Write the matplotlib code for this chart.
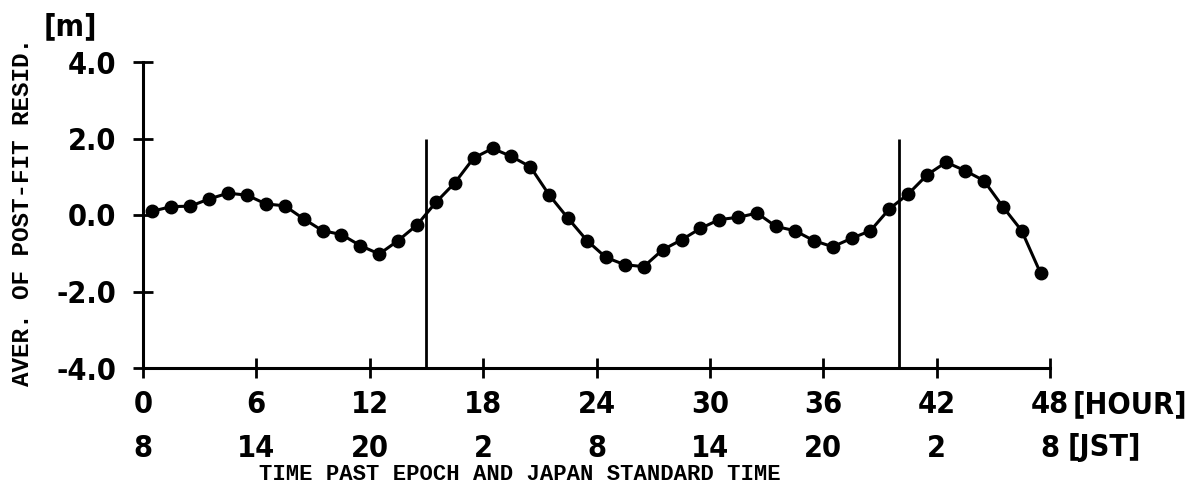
import matplotlib
matplotlib.use("Agg")
import matplotlib.pyplot as plt
import matplotlib.transforms as mtransforms
from matplotlib import font_manager
import numpy as np

# Hourly averages of post-fit residuals [m], plotted at half-hour marks
hours = np.arange(48) + 0.5
resid = [
    0.10, 0.22, 0.23, 0.42, 0.57, 0.52, 0.29, 0.24, -0.10, -0.41, -0.51, -0.80,
    -1.02, -0.67, -0.26, 0.33, 0.84, 1.49, 1.74, 1.53, 1.26, 0.52, -0.09, -0.67,
    -1.11, -1.30, -1.35, -0.91, -0.65, -0.35, -0.12, -0.06, 0.05, -0.30, -0.41, -0.67,
    -0.83, -0.61, -0.41, 0.16, 0.55, 1.05, 1.38, 1.16, 0.90, 0.22, -0.41, -1.52,
]

hour_ticks = [0, 6, 12, 18, 24, 30, 36, 42, 48]
jst_labels = [8, 14, 20, 2, 8, 14, 20, 2, 8]
y_ticks = [-4.0, -2.0, 0.0, 2.0, 4.0]
marker_hours = [15, 40]
marker_top = 2.0

# Pick a narrow bold face for the numerals if one is installed
fonts = font_manager.fontManager.ttflist
names = {f.name for f in fonts}
if "Liberation Sans Narrow" in names:
    tick_font = dict(family="Liberation Sans Narrow", fontweight="bold", fontsize=23)
elif any(f.name == "DejaVu Sans" and f.stretch == "condensed" for f in fonts):
    tick_font = dict(family="DejaVu Sans", fontstretch="condensed", fontweight="bold", fontsize=22)
else:
    tick_font = dict(family="DejaVu Sans", fontweight="bold", fontsize=21)

fig = plt.figure(figsize=(11.96, 5.01), dpi=100)
ax = fig.add_axes([143 / 1196, 133 / 501, 907 / 1196, 306 / 501])

ax.plot(hours, resid, color="black", lw=2.2, marker="o", ms=9, clip_on=False)
ax.vlines(marker_hours, -4.0, marker_top, color="black", lw=2.0)

ax.set_xlim(0, 48)
ax.set_ylim(-4, 4)
for side in ("top", "right"):
    ax.spines[side].set_visible(False)
for side in ("left", "bottom"):
    ax.spines[side].set_linewidth(2.2)

ax.set_xticks(hour_ticks)
ax.set_xticklabels([str(h) for h in hour_ticks], **tick_font)
ax.set_yticks(y_ticks)
ax.set_yticklabels([f"{v:.1f}" for v in y_ticks], **tick_font)
ax.tick_params(direction="inout", length=14, width=2.0)
ax.tick_params(axis="x", pad=9)
ax.tick_params(axis="y", pad=12)

# Second row: Japan Standard Time under each hour tick
trans = mtransforms.blended_transform_factory(ax.transData, ax.transAxes)
for h, j in zip(hour_ticks, jst_labels):
    ax.text(h, -0.262, str(j), transform=trans, ha="center", va="center", **tick_font)

fig.text(1073 / 1196, 1 - 405 / 501, "[HOUR]", ha="left", va="center", **tick_font)
fig.text(1068 / 1196, 1 - 448 / 501, "[JST]", ha="left", va="center", **tick_font)
fig.text(70 / 1196, 1 - 27 / 501, "[m]", ha="center", va="center", **tick_font)

fig.text(520 / 1196, 1 - 474 / 501, "TIME PAST EPOCH AND JAPAN STANDARD TIME",
         ha="center", va="center", family="Liberation Mono", fontweight="bold", fontsize=16)
fig.text(23 / 1196, 1 - 212 / 501, "AVER. OF POST-FIT RESID.", rotation=90,
         ha="center", va="center", family="Liberation Mono", fontweight="bold", fontsize=17.5)

fig.savefig("out.png", dpi=100, facecolor="white")
